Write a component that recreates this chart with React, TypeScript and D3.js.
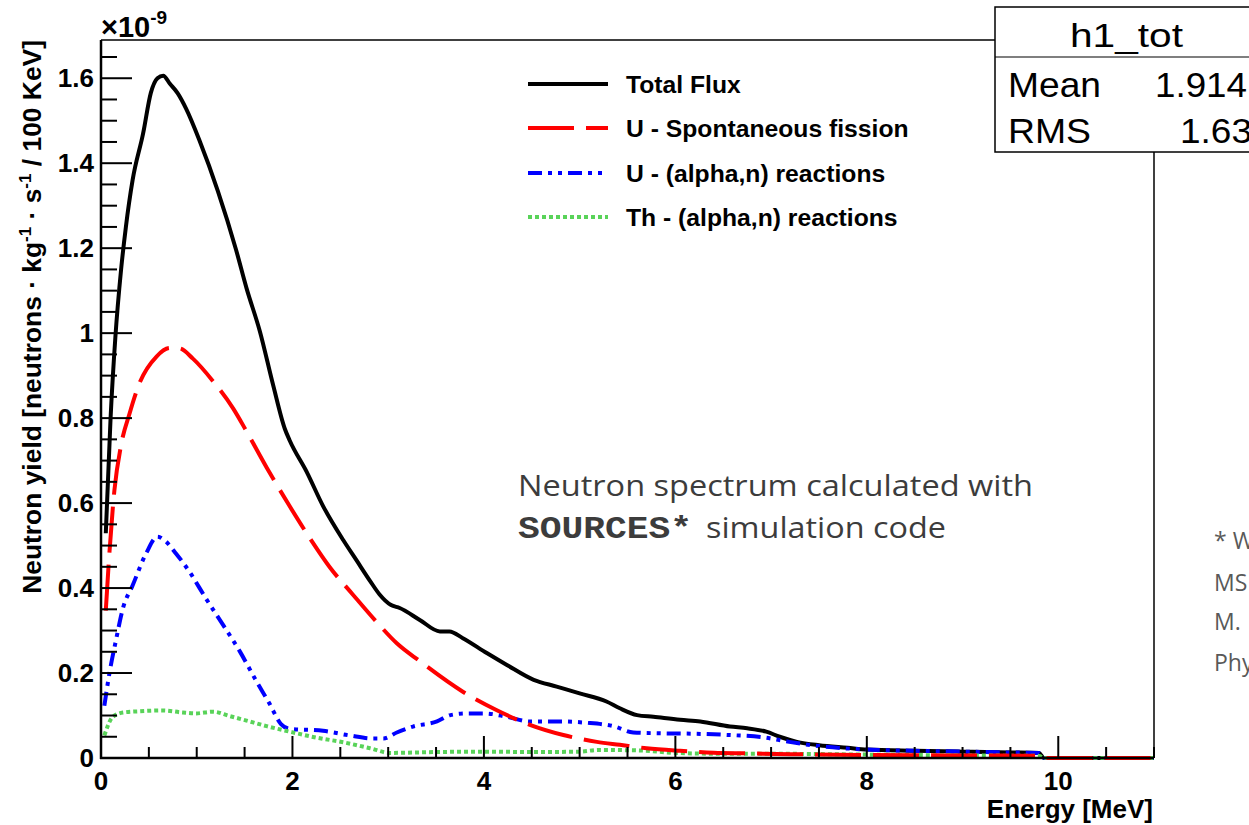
import React from 'react';
import * as d3 from 'd3';

const W = 1249;
const H = 825;

// Energy [MeV] and neutron yield [×1e-9 neutrons · kg⁻¹ · s⁻¹ / 100 keV]
const totalEnergy = [0.05, 0.1, 0.15, 0.21, 0.26, 0.33, 0.44, 0.52, 0.59, 0.65, 0.72, 0.8, 0.89, 1.03, 1.22, 1.41, 1.52, 1.66, 1.8, 1.92, 1.97, 2.15, 2.32, 2.53, 2.67, 2.81, 2.91, 3.03, 3.12, 3.33, 3.54, 3.64, 3.78, 4.03, 4.24, 4.52, 4.76, 5.0, 5.28, 5.42, 5.6, 5.77, 6.05, 6.26, 6.57, 6.75, 6.95, 7.09, 7.27, 7.5, 7.8, 8.0, 8.5, 9.0, 9.5, 9.8, 9.85, 11];
const totalYield = [0.529, 0.8, 0.99, 1.15, 1.25, 1.36, 1.47, 1.565, 1.6, 1.606, 1.587, 1.565, 1.528, 1.453, 1.335, 1.197, 1.106, 1.004, 0.876, 0.775, 0.748, 0.673, 0.593, 0.513, 0.465, 0.417, 0.385, 0.36, 0.353, 0.325, 0.298, 0.298, 0.282, 0.247, 0.219, 0.184, 0.168, 0.152, 0.133, 0.117, 0.101, 0.097, 0.09, 0.086, 0.074, 0.07, 0.062, 0.05, 0.038, 0.03, 0.024, 0.02, 0.017, 0.015, 0.013, 0.012, 0, 0];

const fissionEnergy = [0.05, 0.087, 0.14, 0.21, 0.3, 0.4, 0.58, 0.72, 0.82, 0.96, 1.17, 1.38, 1.52, 1.73, 1.97, 2.18, 2.39, 2.63, 2.88, 3.09, 3.33, 3.78, 4.13, 4.48, 4.83, 5.18, 5.42, 5.7, 6.05, 6.4, 6.75, 7.2, 8.0, 9.0, 9.8, 9.85, 11];
const fissionYield = [0.347, 0.48, 0.63, 0.737, 0.812, 0.881, 0.945, 0.965, 0.964, 0.94, 0.887, 0.823, 0.769, 0.684, 0.593, 0.518, 0.449, 0.385, 0.32, 0.27, 0.228, 0.156, 0.113, 0.078, 0.054, 0.038, 0.031, 0.023, 0.017, 0.0125, 0.011, 0.009, 0.007, 0.006, 0.005, 0, 0];

const uAlphaEnergy = [0.035, 0.087, 0.157, 0.23, 0.33, 0.47, 0.59, 0.66, 0.785, 0.925, 1.1, 1.27, 1.45, 1.62, 1.76, 1.88, 1.97, 2.32, 2.6, 2.84, 2.95, 3.09, 3.26, 3.51, 3.65, 3.82, 4.0, 4.24, 4.48, 4.79, 5.07, 5.35, 5.56, 5.87, 6.22, 6.57, 6.91, 7.19, 7.5, 8.0, 8.5, 9.0, 9.5, 9.8, 9.85, 11];
const uAlphaYield = [0.123, 0.198, 0.278, 0.353, 0.406, 0.481, 0.521, 0.513, 0.481, 0.438, 0.374, 0.315, 0.251, 0.182, 0.128, 0.08, 0.069, 0.064, 0.053, 0.046, 0.046, 0.06, 0.074, 0.086, 0.101, 0.105, 0.105, 0.097, 0.086, 0.086, 0.083, 0.075, 0.06, 0.058, 0.057, 0.054, 0.049, 0.038, 0.028, 0.02, 0.017, 0.015, 0.013, 0.012, 0, 0];

const thAlphaEnergy = [0.035, 0.12, 0.23, 0.4, 0.645, 0.855, 0.99, 1.17, 1.34, 1.52, 1.73, 1.97, 2.25, 2.53, 2.81, 3.02, 3.5, 4.0, 4.5, 5.0, 5.2, 5.6, 6.0, 6.5, 7.0, 8.0, 9.0, 9.8, 9.85, 11];
const thAlphaYield = [0.053, 0.096, 0.107, 0.11, 0.112, 0.107, 0.105, 0.109, 0.099, 0.088, 0.075, 0.062, 0.048, 0.037, 0.023, 0.012, 0.014, 0.015, 0.014, 0.015, 0.019, 0.018, 0.012, 0.01, 0.01, 0.008, 0.006, 0.005, 0, 0];

const xTickValues = [0, 2, 4, 6, 8, 10];
const xTickLabels = ['0', '2', '4', '6', '8', '10'];
const yTickValues = [0, 0.2, 0.4, 0.6, 0.8, 1.0, 1.2, 1.4, 1.6];
const yTickLabels = ['0', '0.2', '0.4', '0.6', '0.8', '1', '1.2', '1.4', '1.6'];

const legendLabels = ['Total Flux', 'U - Spontaneous fission', 'U - (alpha,n) reactions', 'Th - (alpha,n) reactions'];
const statsTitle = 'h1_tot';
const statsNames = ['Mean', 'RMS'];
const statsValues = ['1.914', '1.63'];

const noteLines = ['* W', 'MS', 'M.', 'Phy'];

type Pt = [number, number];

const zip = (xs: number[], ys: number[]): Pt[] => xs.map((e, i) => [e, ys[i]]);

const series = [
  { label: legendLabels[0], pts: zip(totalEnergy, totalYield), color: '#000000', dash: undefined as string | undefined },
  { label: legendLabels[2], pts: zip(uAlphaEnergy, uAlphaYield), color: '#0000ff', dash: '14 6 4 6 4 6' },
  { label: legendLabels[3], pts: zip(thAlphaEnergy, thAlphaYield), color: '#59d359', dash: '4 3' },
  { label: legendLabels[1], pts: zip(fissionEnergy, fissionYield), color: '#ff0000', dash: '46 12' },
];

const legendOrder = [0, 3, 1, 2];

export default function App() {
  const left = 101, right = 1154, top = 40, bottom = 758;
  const x = d3.scaleLinear().domain([0, 11]).range([left, right]);
  const y = d3.scaleLinear().domain([0, 1.69]).range([bottom, top]);

  const line = d3
    .line<Pt>()
    .x((d) => x(d[0]))
    .y((d) => y(d[1]))
    .curve(d3.curveMonotoneX);

  const xMinor = d3.range(0, 11.001, 0.5).filter((v) => !xTickValues.some((t) => Math.abs(t - v) < 1e-6));
  const yMinor = d3.range(0, 1.69, 0.05).filter((v) => !yTickValues.some((t) => Math.abs(t - v) < 1e-6));

  const axisFont = 'Liberation Sans, Arial, Helvetica, sans-serif';
  const lw = 4;

  return (
    <svg
      width={W}
      height={H}
      viewBox={`0 0 ${W} ${H}`}
      style={{ position: 'absolute', left: 0, top: 0, display: 'block', background: '#fff' }}
    >
      <rect x={0} y={0} width={W} height={H} fill="#fff" />

      {/* slide notes next to the plot */}
      <g fontFamily="Open Sans, Lato, sans-serif" fill="#3c3c3c">
        <text x={518} y={496} fontSize={29} textLength={515} lengthAdjust="spacingAndGlyphs">
          Neutron spectrum calculated with
        </text>
        <text x={518} y={538} fontSize={31} fontWeight="bold" fontFamily="Liberation Mono, Courier New, monospace" textLength={174} lengthAdjust="spacingAndGlyphs">
          SOURCES*
        </text>
        <text x={706} y={538} fontSize={29} textLength={240} lengthAdjust="spacingAndGlyphs">
          simulation code
        </text>
      </g>
      <g fontFamily="Open Sans, Lato, sans-serif" fill="#595959" fontSize={23}>
        {noteLines.map((t, i) => (
          <text key={t} x={1214} y={[549, 591, 630, 671][i]}>
            {t}
          </text>
        ))}
      </g>

      {/* curves */}
      <defs>
        <clipPath id="plotClip">
          <rect x={left} y={top} width={right - left} height={bottom - top + 3} />
        </clipPath>
      </defs>
      <g clipPath="url(#plotClip)">
        {series.map((s) => (
          <path
            key={s.label}
            d={line(s.pts) ?? ''}
            fill="none"
            stroke={s.color}
            strokeWidth={lw}
            strokeDasharray={s.dash}
            strokeLinejoin="round"
          />
        ))}
      </g>

      {/* frame */}
      <line x1={left} x2={right} y1={top} y2={top} stroke="#000" strokeWidth={1.5} />
      <line x1={right} x2={right} y1={top} y2={bottom} stroke="#000" strokeWidth={1.5} />
      <line x1={left} x2={left} y1={top} y2={bottom + 1} stroke="#000" strokeWidth={2.5} />
      <line x1={left - 1} x2={right} y1={bottom} y2={bottom} stroke="#000" strokeWidth={2.5} />

      {/* y ticks */}
      {yTickValues.map((v) => (
        <line key={`ym${v}`} x1={left} x2={left + 31} y1={y(v)} y2={y(v)} stroke="#000" strokeWidth={2} />
      ))}
      {yMinor.map((v) => (
        <line key={`yn${v}`} x1={left} x2={left + 16} y1={y(v)} y2={y(v)} stroke="#000" strokeWidth={2} />
      ))}
      {/* x ticks */}
      {xTickValues.map((v) => (
        <line key={`xm${v}`} x1={x(v)} x2={x(v)} y1={bottom} y2={bottom - 22} stroke="#000" strokeWidth={2} />
      ))}
      {xMinor.map((v) => (
        <line key={`xn${v}`} x1={x(v)} x2={x(v)} y1={bottom} y2={bottom - 11} stroke="#000" strokeWidth={2} />
      ))}

      <g fontFamily={axisFont} fontWeight="bold" fontSize={26} fill="#000">
        {yTickValues.map((v, i) => (
          <text key={`yl${v}`} x={94} y={y(v) + 9} textAnchor="end">
            {yTickLabels[i]}
          </text>
        ))}
        {xTickValues.map((v, i) => (
          <text key={`xl${v}`} x={x(v)} y={790} textAnchor="middle">
            {xTickLabels[i]}
          </text>
        ))}
        <text x={1153} y={818} textAnchor="end">
          Energy [MeV]
        </text>
      </g>

      {/* exponent */}
      <text x={101} y={37} fontFamily={axisFont} fontSize={29} fontWeight="bold" fill="#000">
        ×10
        <tspan fontSize={19} dy={-13}>
          -9
        </tspan>
      </text>

      {/* y axis title */}
      <text
        transform="rotate(-90)"
        x={-40}
        y={41}
        textAnchor="end"
        fontFamily={axisFont}
        fontWeight="bold"
        fontSize={26.4}
        fill="#000"
      >
        Neutron yield [neutrons · kg
        <tspan fontSize={17} dy={-10}>
          -1
        </tspan>
        <tspan dy={10}> · s</tspan>
        <tspan fontSize={17} dy={-10}>
          -1
        </tspan>
        <tspan dy={10}> / 100 KeV]</tspan>
      </text>

      {/* legend */}
      <g fontFamily={axisFont} fontWeight="bold" fontSize={24.7} fill="#000">
        {legendOrder.map((si, i) => {
          const s = series[si];
          const ly = [84, 128, 173, 217][i];
          return (
            <g key={s.label}>
              <line x1={528} x2={608} y1={ly} y2={ly} stroke={s.color} strokeWidth={lw} strokeDasharray={s.dash} />
              <text x={626} y={ly + 9}>
                {s.label}
              </text>
            </g>
          );
        })}
      </g>

      {/* statistics box */}
      <g fontFamily={axisFont} fill="#000">
        <rect x={995} y={7} width={270} height={145} fill="#fff" stroke="#000" strokeWidth={1.5} />
        <line x1={995} x2={W} y1={57} y2={57} stroke="#000" strokeWidth={1.2} />
        <text x={1070} y={47} fontSize={34} textLength={113} lengthAdjust="spacingAndGlyphs">
          {statsTitle}
        </text>
        {statsNames.map((n, i) => (
          <g key={n}>
            <text x={1008} y={[97, 143][i]} fontSize={35} textLength={[93, 83][i]} lengthAdjust="spacingAndGlyphs">
              {n}
            </text>
            <text x={[1155, 1180][i]} y={[97, 143][i]} fontSize={35} textLength={[92, 72][i]} lengthAdjust="spacingAndGlyphs">
              {statsValues[i]}
            </text>
          </g>
        ))}
      </g>
    </svg>
  );
}
